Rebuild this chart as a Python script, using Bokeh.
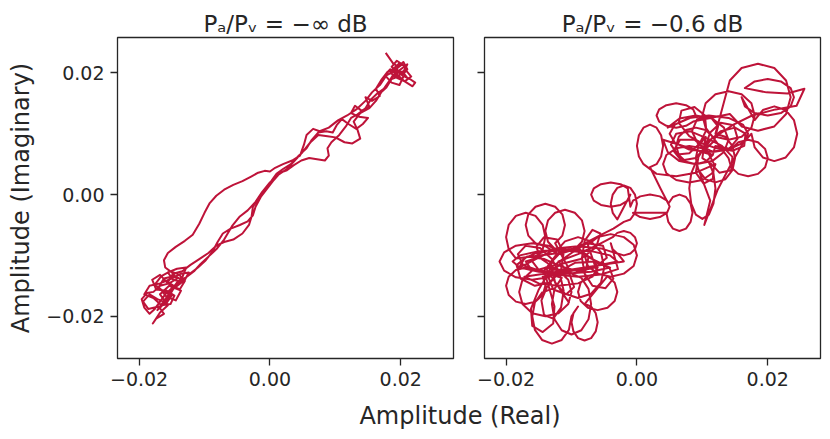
import numpy as np
from bokeh.plotting import figure
from bokeh.models import Range1d, FixedTicker, CustomJSTickFormatter, Div, Spacer
from bokeh.layouts import row, column
from bokeh.embed import file_html
from bokeh.resources import INLINE

# ---- data (values in units of 1e-3) ----
UNIT = 1e-3

titles = ["Pₐ/Pᵥ = −∞ dB", "Pₐ/Pᵥ = −0.6 dB"]
x_label = "Amplitude (Real)"
y_label = "Amplitude (Imaginary)"
tick_values = [-0.02, 0.0, 0.02]

# left panel: (real, imaginary) pairs, one continuous trace
left_pass1 = [
    (17.7, 23.3), (18.8, 21.6), (19.6, 21.0), (20.4, 21.8), (21.0, 20.6), (20.2, 19.6), (21.4, 19.0),
    (22.2, 18.4), (21.8, 17.8), (20.6, 18.6), (19.4, 19.8), (18.4, 20.6), (17.6, 19.6), (18.6, 18.4),
    (19.8, 18.0), (20.4, 19.4), (19.2, 20.8), (18.0, 20.2), (17.0, 18.8), (16.2, 17.4), (16.8, 16.2),
    (15.6, 15.4), (14.6, 16.0), (15.2, 14.4), (14.0, 13.8), (13.0, 14.6), (12.4, 13.4), (13.6, 12.8),
    (15.0, 12.6), (14.2, 11.6), (13.2, 10.8), (12.0, 11.6), (11.0, 12.4), (10.2, 11.4), (9.6, 10.2),
    (8.6, 10.4), (7.4, 10.2), (6.4, 9.0), (5.6, 7.6), (4.4, 6.4), (3.2, 5.0), (2.0, 4.2), (1.0, 3.4),
    (0.2, 2.2), (-0.8, 0.8), (-1.8, -0.6), (-2.6, -2.0), (-2.8, -3.6), (-3.2, -5.0), (-4.2, -6.4),
    (-5.6, -7.4), (-7.0, -7.8), (-8.2, -8.4), (-9.4, -9.6), (-10.8, -10.6), (-12.2, -11.6),
    (-13.4, -12.6), (-14.8, -13.0), (-15.6, -14.4), (-14.4, -15.2), (-13.2, -14.2), (-13.8, -13.2),
    (-15.2, -12.6), (-16.6, -13.4), (-17.6, -14.8), (-16.4, -15.8), (-15.0, -16.6), (-15.8, -17.8),
    (-17.2, -17.2), (-18.4, -16.4), (-19.4, -17.6), (-18.6, -18.8), (-17.0, -18.4), (-16.2, -19.6),
    (-17.4, -20.4), (-17.9, -21.2),
]
left_tangle_low = [
    (-16.8, -19.4), (-15.6, -18.2), (-16.8, -16.4), (-15.4, -15.0), (-13.6, -15.8), (-14.4, -17.4),
    (-15.8, -16.8), (-17.0, -15.2), (-16.2, -13.8), (-14.6, -13.4), (-13.0, -14.2), (-13.8, -15.6),
    (-15.6, -14.6), (-16.8, -13.2), (-18.0, -14.0), (-17.4, -15.6), (-15.8, -15.8), (-14.6, -16.6),
    (-15.2, -18.0), (-16.6, -18.2), (-17.8, -17.0), (-19.2, -16.4), (-18.4, -15.0), (-16.8, -14.6),
    (-15.0, -13.8), (-13.6, -13.0), (-12.4, -12.8), (-13.2, -14.4), (-14.8, -14.0), (-15.6, -12.8),
    (-14.2, -12.2), (-12.8, -12.0), (-13.4, -13.6), (-14.6, -15.2), (-16.0, -17.8),
]
left_pass2 = [
    (-17.2, -19.0), (-16.0, -17.2), (-15.0, -15.6), (-14.0, -14.2), (-12.8, -13.6), (-11.6, -12.6),
    (-10.6, -11.4), (-9.4, -10.2), (-8.2, -9.0), (-7.0, -7.4), (-5.8, -5.2), (-4.6, -3.6),
    (-3.4, -2.6), (-2.2, -1.2), (-1.2, 0.4), (0.0, 2.0), (1.2, 3.2), (2.6, 4.2), (3.8, 5.6),
    (5.0, 7.0), (6.2, 8.6), (7.4, 9.8), (8.8, 9.6), (10.0, 9.4), (11.4, 8.6), (12.6, 8.4),
    (13.8, 9.2), (13.4, 10.6), (12.8, 12.0), (13.8, 13.4), (15.2, 14.2), (16.2, 15.4), (17.0, 16.8),
    (17.8, 17.6), (18.6, 19.0), (19.6, 19.4), (20.2, 20.2), (19.0, 20.4),
]
left_tangle_high = [
    (20.2, 21.4), (19.4, 22.0), (18.6, 21.0), (19.6, 20.0), (20.8, 20.4), (21.6, 19.4), (20.6, 18.6),
    (19.4, 19.2), (18.8, 20.6), (19.8, 21.6), (20.8, 21.0), (20.2, 19.8), (19.0, 19.4), (18.2, 20.4),
    (18.9, 20.2),
]
left_pass3 = [
    (17.8, 19.6), (16.8, 18.0), (15.6, 16.8), (14.6, 15.4), (13.2, 14.0), (11.8, 13.0), (10.4, 12.2),
    (9.0, 11.0), (7.6, 10.4), (6.6, 10.8), (5.6, 9.8), (5.2, 8.2), (4.6, 6.4), (3.4, 5.6),
    (2.0, 5.0), (0.8, 4.4), (0.0, 3.8), (-0.8, 3.9), (-1.8, 3.6), (-2.8, 3.0), (-4.2, 2.2),
    (-5.6, 1.6), (-7.0, 0.8), (-8.2, -0.2), (-9.2, -1.4), (-10.0, -3.0), (-10.8, -4.8),
    (-11.8, -6.6), (-13.0, -7.6), (-14.4, -8.6), (-15.6, -9.6), (-16.2, -10.8), (-16.0, -12.0),
    (-15.0, -12.8), (-14.2, -13.8), (-15.4, -14.6), (-16.8, -15.0), (-17.8, -16.0), (-18.8, -16.2),
    (-19.6, -17.2), (-19.2, -18.6), (-18.4, -19.6), (-17.6, -18.8), (-16.8, -17.6),
]
left_pass4 = [
    (-16.0, -16.4), (-15.0, -15.4), (-14.0, -14.6), (-13.0, -13.8), (-12.2, -13.0), (-11.0, -12.0),
    (-9.8, -10.8), (-8.8, -9.4), (-8.0, -7.8), (-7.2, -6.4), (-6.0, -5.6), (-4.6, -5.0),
    (-3.4, -4.4), (-2.6, -3.4), (-2.2, -2.0), (-1.4, -0.4), (-0.4, 1.0), (0.6, 2.4), (1.6, 3.6),
    (2.6, 4.0), (3.6, 4.8), (4.8, 5.6), (6.0, 6.0), (7.2, 5.8), (8.4, 5.6), (9.0, 6.4), (8.8, 7.6),
    (9.4, 8.6), (10.6, 9.8), (11.6, 11.2), (12.4, 12.6), (13.4, 13.2), (14.6, 14.2), (15.4, 15.6),
    (16.4, 16.6), (17.4, 17.4), (18.2, 18.6), (18.8, 19.6), (20.0, 20.6), (21.0, 21.4),
    (20.4, 20.0), (21.0, 19.2),
]

# right panel: (real, imaginary) pairs, read loop by loop
right_low = [
    (-11, -11), (-11.7, -9.5), (-13.5, -8.4), (-16, -8), (-18.5, -8.4), (-20.3, -9.5), (-21, -11),
    (-20.3, -12.5), (-18.5, -13.6), (-16, -14), (-13.5, -13.6), (-11.7, -12.5),
    (-13, -12), (-12.5, -14.5), (-11, -16.3), (-9, -17), (-7, -16.3), (-5.5, -14.5), (-5, -12),
    (-5.5, -9.5), (-7, -7.7), (-9, -7), (-11, -7.7), (-12.5, -9.5),
    (-14, -8.5), (-15.5, -8.0), (-16.6, -6.75), (-17, -5), (-16.6, -3.25), (-15.5, -2.0), (-14, -1.5),
    (-12.5, -2.0), (-11.4, -3.25), (-11, -5), (-11.4, -6.75), (-12.5, -8.0),
    (-10, -13), (-8.5, -13.7), (-7.4, -15.5), (-7, -18), (-7.4, -20.5), (-8.5, -22.3), (-10, -23),
    (-11.5, -22.3), (-12.6, -20.5), (-13, -18), (-12.6, -15.5), (-11.5, -13.7),
    (-15.5, -12.4), (-17, -12), (-18.5, -12.4), (-19.6, -13.5), (-20, -15), (-19.6, -16.5),
    (-18.5, -17.6), (-17, -18), (-15.5, -17.6), (-14.4, -16.5), (-14, -15), (-14.4, -13.5),
    (-3, -11), (-4.1, -10), (-7, -9.3), (-11, -9), (-15, -9.3), (-17.9, -10), (-19, -11),
    (-17.9, -12), (-15, -12.7), (-11, -13), (-7, -12.7), (-4.1, -12),
    (-8, -10), (-7.5, -11.75), (-6, -13.0), (-4, -13.5), (-2, -13.0), (-0.5, -11.75), (0, -10),
    (-0.5, -8.25), (-2, -7.0), (-4, -6.5), (-6, -7.0), (-7.5, -8.25),
    (-6, -13), (-7.5, -13.4), (-8.6, -14.5), (-9, -16), (-8.6, -17.5), (-7.5, -18.6), (-6, -19),
    (-4.5, -18.6), (-3.4, -17.5), (-3, -16), (-3.4, -14.5), (-4.5, -13.4),
    (-8, -18), (-7, -18.4), (-6.3, -19.5), (-6, -21), (-6.3, -22.5), (-7, -23.6), (-8, -24),
    (-9, -23.6), (-9.7, -22.5), (-10, -21), (-9.7, -19.5), (-9, -18.4),
    (-10, -20), (-10.4, -22.25), (-11.5, -23.9), (-13, -24.5), (-14.5, -23.9), (-15.6, -22.25),
    (-16, -20), (-15.6, -17.75), (-14.5, -16.1), (-13, -15.5), (-11.5, -16.1), (-10.4, -17.75),
    (-14, -12), (-12, -12.5), (-10.5, -14), (-10, -16), (-10.5, -18), (-12, -19.5), (-14, -20),
    (-16, -19.5), (-17.5, -18), (-18, -16), (-17.5, -14), (-16, -12.5),
    (-17, -11), (-15.5, -10.5), (-14.4, -9), (-14, -7), (-14.4, -5), (-15.5, -3.5), (-17, -3),
    (-18.5, -3.5), (-19.6, -5), (-20, -7), (-19.6, -9), (-18.5, -10.5),
    (-11, -9.5), (-9.5, -9.0), (-8.4, -7.75), (-8, -6), (-8.4, -4.25), (-9.5, -3.0), (-11, -2.5),
    (-12.5, -3.0), (-13.6, -4.25), (-14, -6), (-13.6, -7.75), (-12.5, -9.0),
    (-18, -12), (-17.2, -10.5), (-15, -9.4), (-12, -9), (-9, -9.4), (-6.8, -10.5), (-6, -12),
    (-6.8, -13.5), (-9, -14.6), (-12, -15), (-15, -14.6), (-17.2, -13.5),
    (-2, -11), (-2.9, -9.75), (-5.5, -8.85), (-9, -8.5), (-12.5, -8.85), (-15.1, -9.75), (-16, -11),
    (-15.1, -12.25), (-12.5, -13.15), (-9, -13.5), (-5.5, -13.15), (-2.9, -12.25),
    (-4, -8), (-3.7, -9), (-3, -9.7), (-2, -10), (-1, -9.7), (-0.3, -9), (0, -8), (-0.3, -7),
    (-1, -6.3), (-2, -6), (-3, -6.3), (-3.7, -7),
]
right_low_core = [
    (-6.2, -8.4), (-9.0, -9.8),
    (-12, -11), (-10.4, -12.8), (-9.6, -15.2), (-10.8, -16.4), (-12.8, -15.6), (-13.6, -13.4),
    (-13.0, -11.0), (-11.4, -9.2), (-9.0, -8.8), (-7.4, -10.2), (-7.8, -12.4), (-9.8, -13.0),
    (-12.4, -12.2), (-14.6, -10.6), (-15.4, -8.6), (-14.2, -7.0), (-12.2, -7.4), (-11.2, -9.6),
    (-11.6, -12.4), (-13.2, -14.4), (-15.6, -15.0), (-17.8, -13.8), (-18.4, -11.6), (-16.8, -10.2),
    (-14.2, -10.6), (-11.6, -11.8),
    (-9.0, -12.6), (-6.4, -12.0), (-4.6, -10.4), (-5.2, -8.4), (-7.6, -8.0), (-10.0, -9.6),
    (-12.6, -11.6), (-15.2, -12.4), (-17.4, -11.6), (-18.2, -9.8), (-17.0, -8.4), (-14.8, -8.8),
    (-13.0, -10.6), (-11.8, -13.0), (-11.2, -15.8), (-11.6, -18.6), (-12.8, -20.4), (-14.2, -19.8),
    (-14.6, -17.4), (-13.6, -14.8), (-11.8, -12.6), (-9.4, -11.2), (-6.6, -11.0), (-4.2, -12.0),
    (-3.6, -13.8), (-4.8, -15.4), (-6.8, -15.0), (-8.0, -13.0), (-8.4, -10.4), (-8.0, -7.6),
    (-6.8, -5.8), (-5.6, -6.4), (-6.2, -8.6), (-8.6, -10.6), (-11.6, -11.4),
    (-13.6, -13.0), (-15.0, -15.6), (-16.2, -18.8), (-16.0, -21.6), (-14.4, -22.6), (-12.8, -21.2),
    (-12.6, -18.4), (-13.4, -15.4), (-14.2, -12.6), (-12.4, -10.0), (-9.0, -8.6), (-5.8, -6.8),
    (-3.6, -5.6),
]
right_bridge = [
    (-2, -4.5), (-1, -4.1), (-0.3, -3), (0, -1.5), (-0.3, 0), (-1, 1.1), (-2, 1.5), (-3, 1.1),
    (-3.7, 0), (-4, -1.5), (-3.7, -3), (-3, -4.1),
    (-1, 0), (-1.4, -1), (-2.5, -1.7), (-4, -2), (-5.5, -1.7), (-6.6, -1), (-7, 0), (-6.6, 1),
    (-5.5, 1.7), (-4, 2), (-2.5, 1.7), (-1.4, 1),
    (-1, -2), (-0.6, -1), (0.5, -0.3), (2, 0), (3.5, -0.3), (4.6, -1), (5, -2), (4.6, -3),
    (3.5, -3.7), (2, -4), (0.5, -3.7), (-0.6, -3),
    (4.5, -3), (4.8, -4.5), (5.5, -5.6), (6.5, -6), (7.5, -5.6), (8.2, -4.5), (8.5, -3),
    (8.2, -1.5), (7.5, -0.4), (6.5, 0), (5.5, -0.4), (4.8, -1.5), (3.6, 1.0),
]
right_high = [
    (2, 4.5), (3, 5.0), (3.7, 6.25), (4, 8), (3.7, 9.75), (3, 11), (2, 11.5), (1, 11), (0.3, 9.75),
    (0, 8), (0.3, 6.25), (1, 5), (3.0, 3.4), (6.0, 3.0), (9.0, 3.6),
    (12, 5), (11.5, 3.5), (10, 2.4), (8, 2), (6, 2.4), (4.5, 3.5), (4, 5), (4.5, 6.5), (6, 7.6),
    (8, 8), (10, 7.6), (11.5, 6.5),
    (4, 9), (4.7, 7), (6.5, 5.5), (9, 5), (11.5, 5.5), (13.3, 7), (14, 9), (13.3, 11), (11.5, 12.5),
    (9, 13), (6.5, 12.5), (4.7, 11),
    (9, 13), (8.6, 14), (7.5, 14.7), (6, 15), (4.5, 14.7), (3.4, 14), (3, 13), (3.4, 12),
    (4.5, 11.3), (6, 11), (7.5, 11.3), (8.6, 12),
    (14.2, 13.25), (16, 11.2), (18.5, 10.5), (21, 11.2), (22.8, 13.25), (23.5, 16), (22.8, 18.75),
    (21, 20.8), (18.5, 21.5), (16, 20.8), (14.2, 18.75), (13.5, 16),
    (12, 10), (13.5, 9.5), (14.6, 8), (15, 6), (14.6, 4), (13.5, 2.5), (12, 2), (10.5, 2.5),
    (9.4, 4), (9, 6), (9.4, 8), (10.5, 9.5),
    (10, 6), (11, 5.3), (11.7, 3.5), (12, 1), (11.7, -1.5), (11, -3.3), (10, -4), (9, -3.3),
    (8.3, -1.5), (8, 1), (8.3, 3.5), (9, 5.3),
    (11.2, -1.0), (10.3, -5.0), (12.3, 0.7), (14.2, 4.6),
    (17, 10), (16.2, 11.5), (14, 12.6), (11, 13), (8, 12.6), (5.8, 11.5), (5, 10), (5.8, 8.5),
    (8, 7.4), (11, 7), (14, 7.4), (16.2, 8.5),
    (17.5, 10), (18, 7.75), (19.25, 6.1), (21, 5.5), (22.75, 6.1), (24, 7.75), (24.5, 10),
    (24, 12.25), (22.75, 13.9), (21, 14.5), (19.25, 13.9), (18, 12.25),
    (16, 16), (16.5, 14.5), (18, 13.4), (20, 13), (22, 13.4), (23.5, 14.5), (24, 16), (23.5, 17.5),
    (22, 18.6), (20, 19), (18, 18.6), (16.5, 17.5),
    (19.8, 16.8), (23.0, 16.6), (25.6, 17.4), (24.4, 14.6), (21.2, 14.0), (17.6, 13.0), (14.6, 11.4),
    (12, 9.5), (14, 9), (16, 9.5), (17.5, 11), (18, 13), (17.5, 15), (16, 16.5), (14, 17),
    (12, 16.5), (10.5, 15), (10, 13), (10.5, 11),
    (14, 6), (14.4, 4.5), (15.5, 3.4), (17, 3), (18.5, 3.4), (19.6, 4.5), (20, 6), (19.6, 7.5),
    (18.5, 8.6), (17, 9), (15.5, 8.6), (14.4, 7.5),
    (12, 8), (11.6, 6.5), (10.5, 5.4), (9, 5), (7.5, 5.4), (6.4, 6.5), (6, 8), (6.4, 9.5),
    (7.5, 10.6), (9, 11), (10.5, 10.6), (11.6, 9.5),
]
right_high_core = [
    (10, 7), (11.8, 8.8), (12.4, 11.2), (11.2, 12.8), (9.2, 12.4), (8.4, 10.4), (9.4, 8.2),
    (11.6, 7.0), (14.0, 7.4), (15.4, 9.2), (14.8, 11.4), (12.8, 11.8), (11.2, 10.2), (10.4, 7.8),
    (9.0, 6.0), (6.8, 5.6), (5.6, 7.2), (6.6, 9.0), (8.8, 9.0), (10.6, 7.4), (11.8, 5.0),
    (11.6, 2.6), (10.2, 1.8), (9.0, 3.6), (9.4, 6.2), (10.8, 8.6), (12.8, 10.4), (15.0, 11.0),
    (16.6, 10.0), (16.4, 8.0), (14.6, 7.2), (12.2, 7.6), (10.0, 8.4),
    (8.0, 9.6), (6.4, 11.8), (6.8, 13.8), (8.8, 14.4), (10.4, 13.0), (10.6, 10.6), (9.6, 8.4),
    (8.0, 6.8), (6.2, 6.6), (5.2, 8.2), (6.0, 10.0), (8.2, 10.4), (10.8, 9.2), (13.0, 8.0),
    (14.6, 6.2), (14.4, 4.0), (12.6, 3.6), (11.2, 5.2),
]

# ---- styling ----
LINE_COLOR = "#be1339"
TEXT_COLOR = "#262626"
FONT = "DejaVu Sans"
X_RANGE = (-0.02330, 0.02806)
Y_RANGE = (-0.02695, 0.02582)


def to_xy(*segments):
    pts = np.array([p for seg in segments for p in seg], dtype=float) * UNIT
    return pts[:, 0], pts[:, 1]


def make_fig(title, width, border_left, border_right, show_ylabels):
    p = figure(width=width, height=399, output_backend="svg", toolbar_location=None,
               x_range=Range1d(*X_RANGE), y_range=Range1d(*Y_RANGE))
    p.min_border_left = border_left
    p.min_border_right = border_right
    p.min_border_top = 37
    p.min_border_bottom = 41
    p.background_fill_color = "white"
    p.border_fill_color = "white"
    p.outline_line_color = TEXT_COLOR
    p.outline_line_width = 1.3
    p.grid.visible = False

    p.title.text = title
    p.title.align = "center"
    p.title.text_font = FONT
    p.title.text_font_size = "23px"
    p.title.text_font_style = "normal"
    p.title.text_color = TEXT_COLOR
    p.title.standoff = 2

    fmt = "return (tick < 0 ? '\u2212' : '') + Math.abs(tick).toFixed(2);"
    for ax in (p.xaxis[0], p.yaxis[0]):
        ax.ticker = FixedTicker(ticks=tick_values)
        ax.axis_line_color = None
        ax.major_tick_out = 7
        ax.major_tick_in = 0
        ax.minor_tick_out = 0
        ax.minor_tick_in = 0
        ax.major_tick_line_color = TEXT_COLOR
        ax.major_tick_line_width = 1.3
        ax.major_label_text_font = FONT
        ax.major_label_text_font_size = "19px"
        ax.major_label_text_color = TEXT_COLOR
        ax.major_label_standoff = 6
        ax.formatter = CustomJSTickFormatter(code=fmt)

    if show_ylabels:
        p.yaxis.axis_label = y_label
        p.yaxis.axis_label_text_font = FONT
        p.yaxis.axis_label_text_font_size = "24px"
        p.yaxis.axis_label_text_font_style = "normal"
        p.yaxis.axis_label_text_color = TEXT_COLOR
        p.yaxis.axis_label_standoff = 8
    else:
        p.yaxis.formatter = CustomJSTickFormatter(code="return '';")
        p.yaxis.major_label_standoff = 0
    return p


p1 = make_fig(titles[0], 468, 117, 15, True)
lx, ly = to_xy(left_pass1, left_tangle_low, left_pass2, left_tangle_high, left_pass3, left_pass4)
p1.line(lx, ly, line_color=LINE_COLOR, line_width=2, line_join="round")

p2 = make_fig(titles[1], 360, 16, 8, False)
rx, ry = to_xy(right_low, right_low_core, right_bridge, right_high, right_high_core)
p2.line(rx, ry, line_color=LINE_COLOR, line_width=2, line_join="round")

xlabel_div = Div(text=x_label, width=340, height=30,
                 styles={"text-align": "center", "font-family": FONT, "font-size": "24px",
                         "color": TEXT_COLOR, "line-height": "24px"})

layout = column(row(p1, p2), row(Spacer(width=285, height=30), xlabel_div))

open("out.html", "w").write(file_html(layout, INLINE))
